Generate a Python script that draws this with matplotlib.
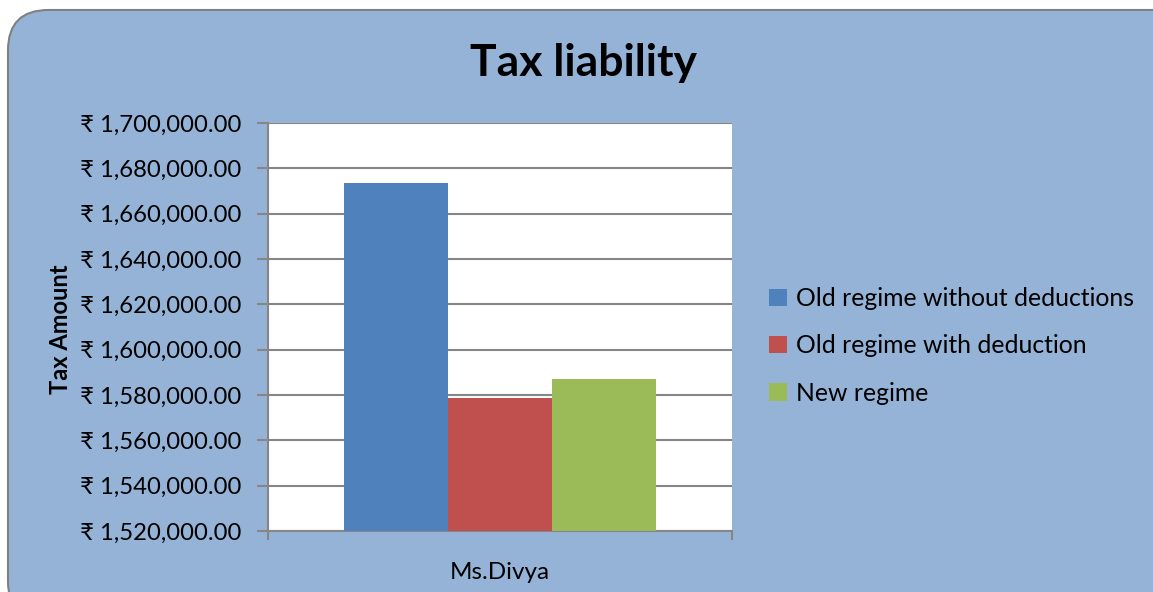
import matplotlib

matplotlib.use("Agg")
import matplotlib.pyplot as plt
from matplotlib.patches import FancyBboxPatch, Patch
from matplotlib.ticker import FuncFormatter

categories = ["Ms.Divya"]
series = ["Old regime without deductions", "Old regime with deduction", "New regime"]
values = [1673500, 1578700, 1587100]
colors = ["#4F81BD", "#C0504D", "#9BBB59"]
y_ticks = list(range(1520000, 1700001, 20000))

plt.rcParams["font.family"] = ["Lato", "DejaVu Sans"]

fig = plt.figure(figsize=(11.53, 5.92), dpi=100)
fig.patch.set_facecolor("white")
box = FancyBboxPatch((8 / 1153, -0.05), 1.2, 1.0 - 10 / 592 + 0.05,
                     boxstyle="round,pad=0,rounding_size=0.035",
                     transform=fig.transFigure, facecolor="#95B3D7",
                     edgecolor="#808080", linewidth=1.5, mutation_aspect=1153 / 592,
                     zorder=-10)
fig.patches.append(box)

ax = fig.add_axes([268 / 1153, 1 - 531 / 592, 464 / 1153, 408 / 592])
ax.set_zorder(1)
ax.set_facecolor("white")

width = 0.224
for i, (name, val, col) in enumerate(zip(series, values, colors)):
    ax.bar(0 + (i - 1) * width, val, width=width, color=col, label=name, zorder=3)

ax.set_xlim(-0.5, 0.5)
ax.set_ylim(1520000, 1700000)
ax.set_yticks(y_ticks)
ax.yaxis.set_major_formatter(FuncFormatter(lambda v, p: f"\u20b9 {v:,.2f}"))
ax.set_xticks([0])
ax.set_xticklabels(categories)
ax.grid(axis="y", color="#868686", linewidth=1.5, zorder=0)

for side in ["top", "right"]:
    ax.spines[side].set_visible(False)
for side in ["left", "bottom"]:
    ax.spines[side].set_color("#868686")
    ax.spines[side].set_linewidth(1.5)
ax.tick_params(axis="y", length=8, width=1.5, color="#868686", labelsize=17.2, pad=11)
ax.tick_params(axis="x", length=0, labelsize=17.5, pad=22)
for xe in [-0.5, 0.5]:
    ax.plot([xe, xe], [0, -0.02], transform=ax.get_xaxis_transform(), color="#868686",
            linewidth=1.5, clip_on=False)

fig.text(60 / 1153, 1 - 329 / 592, "Tax Amount", rotation=90, ha="center", va="center",
         fontsize=17, fontweight="bold")
fig.text(583 / 1153, 1 - 63 / 592, "Tax liability", ha="center", va="center",
         fontsize=32, fontweight="bold")

handles = [Patch(facecolor=c, edgecolor="none") for c in colors]
fig.legend(handles, series, loc="center left", bbox_to_anchor=(747 / 1153, 1 - 346 / 592),
           frameon=False, fontsize=17.8, labelspacing=0.98, handlelength=0.7,
           handleheight=0.7, handletextpad=0.4)

fig.savefig("out.png", dpi=100, facecolor=fig.get_facecolor())
